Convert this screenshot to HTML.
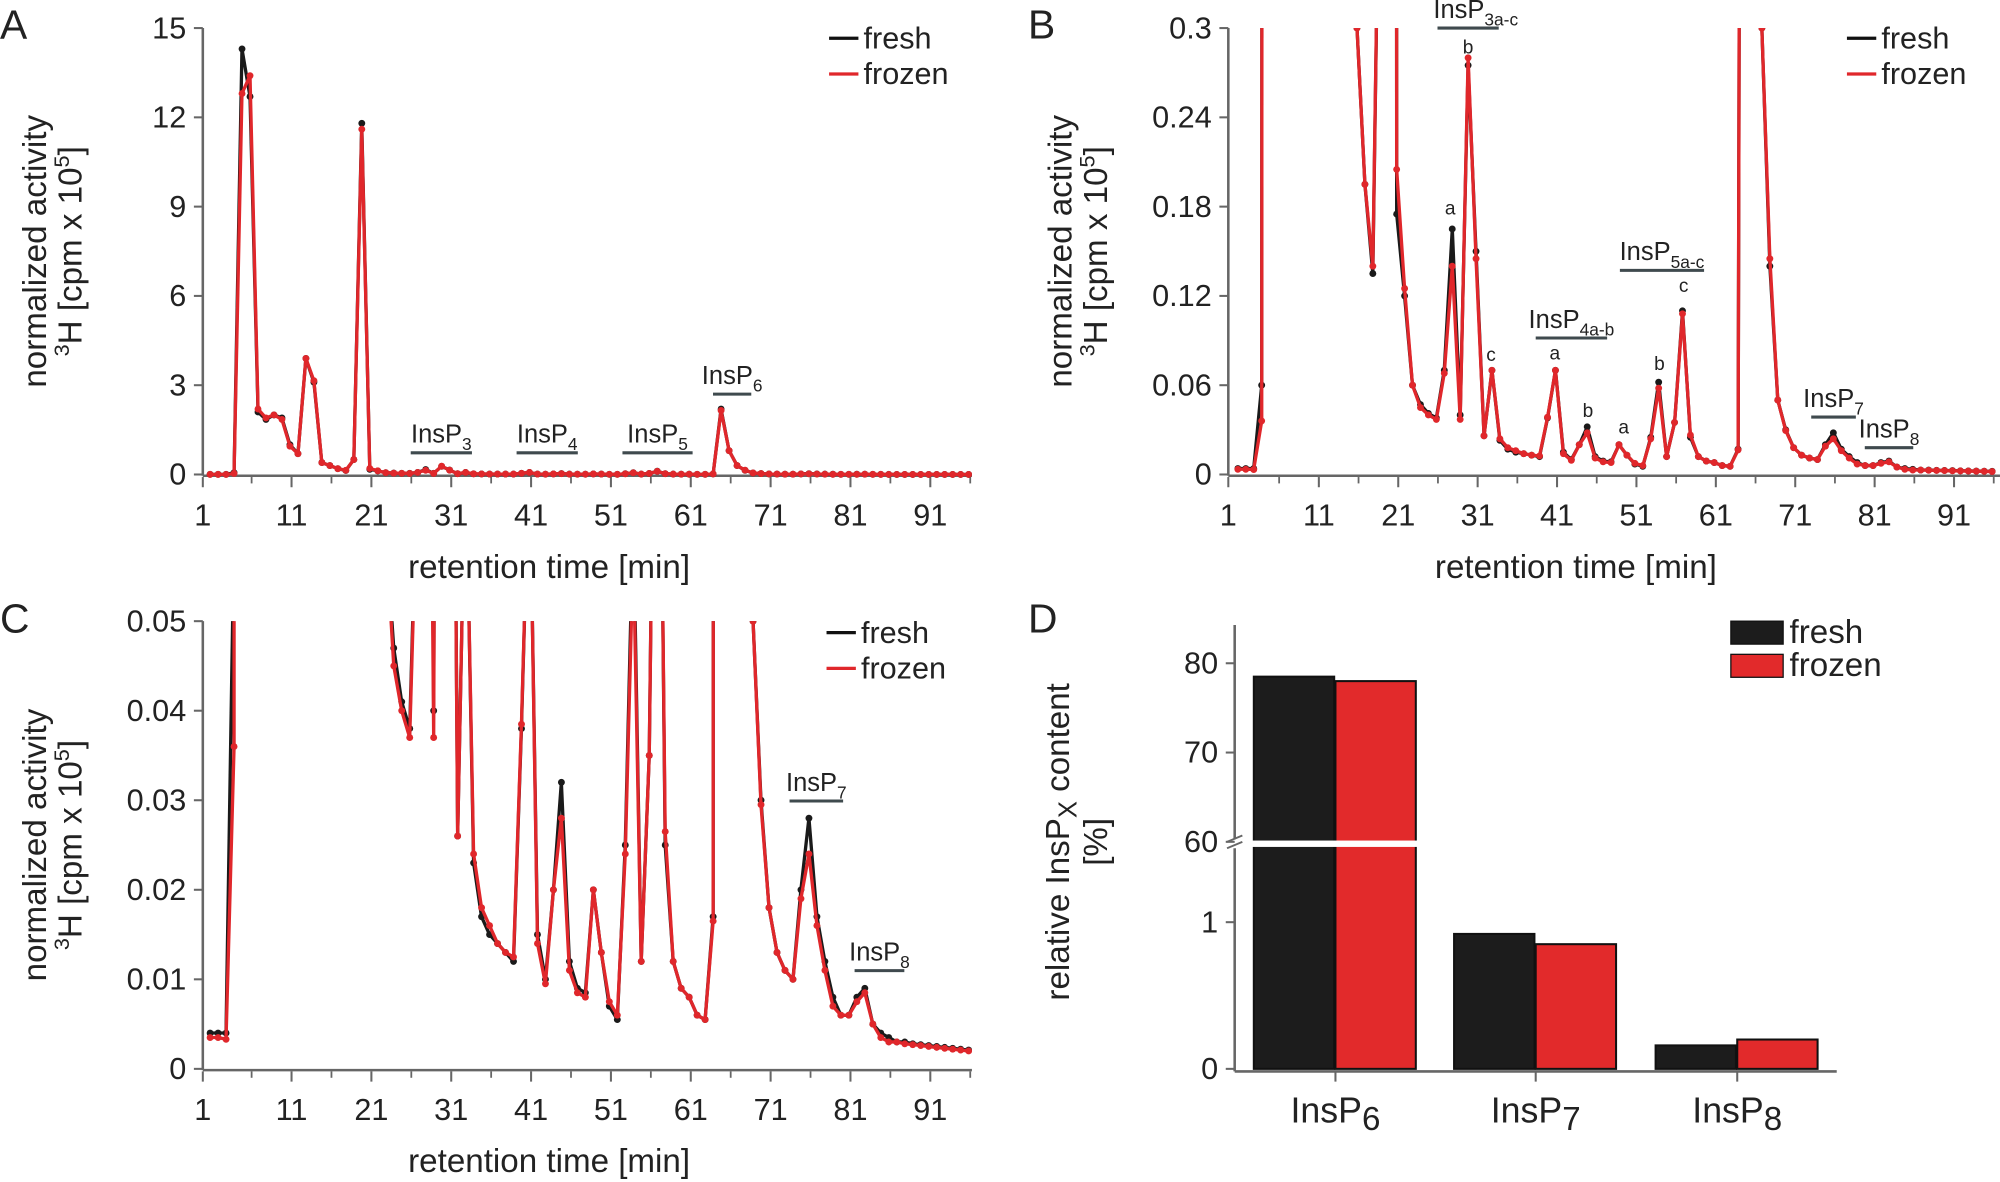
<!DOCTYPE html>
<html><head><meta charset="utf-8"><style>
html,body{margin:0;padding:0;background:#fff;}
svg{display:block;font-family:"Liberation Sans",Arial,sans-serif;}
</style></head><body>
<svg id="fig" width="2000" height="1182" viewBox="0 0 1568 926.7" xmlns="http://www.w3.org/2000/svg">
<defs>
<clipPath id="clipA"><rect x="159" y="14" width="603" height="362"/></clipPath>
<clipPath id="clipB"><rect x="963" y="22" width="605" height="354"/></clipPath>
<clipPath id="clipC"><rect x="159" y="487" width="603" height="355"/></clipPath>
</defs>
<g id="root"></g>
</svg>
<script>
const times = [0.8,1.8,2.8,3.8,4.8,5.8,6.8,7.8,8.8,9.8,10.8,11.8,12.8,13.8,14.8,15.8,16.8,17.8,18.8,19.8,20.8,21.8,22.8,23.8,24.8,25.8,26.8,27.8,28.8,29.8,30.8,31.8,32.8,33.8,34.8,35.8,36.8,37.8,38.8,39.8,40.8,41.8,42.8,43.8,44.8,45.8,46.8,47.8,48.8,49.8,50.8,51.8,52.8,53.8,54.8,55.8,56.8,57.8,58.8,59.8,60.8,61.8,62.8,63.8,64.8,65.8,66.8,67.8,68.8,69.8,70.8,71.8,72.8,73.8,74.8,75.8,76.8,77.8,78.8,79.8,80.8,81.8,82.8,83.8,84.8,85.8,86.8,87.8,88.8,89.8,90.8,91.8,92.8,93.8,94.8,95.8];
const fresh = [0.004,0.004,0.004,0.06,14.3,12.7,2.1,1.85,2.0,1.9,1.0,0.7,3.9,3.1,0.4,0.3,0.195,0.135,0.5,11.8,0.175,0.12,0.06,0.047,0.041,0.038,0.07,0.165,0.04,0.275,0.15,0.026,0.07,0.023,0.017,0.015,0.014,0.013,0.012,0.038,0.07,0.015,0.01,0.02,0.032,0.012,0.009,0.0085,0.02,0.013,0.007,0.0055,0.025,0.062,0.012,0.035,0.11,0.025,0.012,0.009,0.008,0.006,0.0055,0.017,2.2,0.8,0.3,0.14,0.05,0.03,0.018,0.013,0.011,0.01,0.02,0.028,0.017,0.012,0.008,0.006,0.006,0.008,0.009,0.005,0.004,0.0035,0.003,0.003,0.0028,0.0027,0.0026,0.0025,0.0024,0.0023,0.0022,0.0021];
const frozen = [0.0035,0.0035,0.0033,0.036,12.8,13.4,2.2,1.9,2.0,1.85,0.95,0.7,3.9,3.15,0.4,0.3,0.195,0.14,0.5,11.6,0.205,0.125,0.06,0.045,0.04,0.037,0.068,0.14,0.037,0.28,0.145,0.026,0.07,0.024,0.018,0.016,0.014,0.013,0.0125,0.0385,0.07,0.014,0.0095,0.02,0.028,0.011,0.0085,0.008,0.02,0.013,0.0075,0.006,0.024,0.058,0.012,0.035,0.108,0.0265,0.012,0.009,0.008,0.006,0.0055,0.0165,2.15,0.8,0.3,0.145,0.05,0.0295,0.018,0.013,0.011,0.01,0.019,0.024,0.016,0.011,0.007,0.006,0.006,0.0075,0.0085,0.005,0.0035,0.003,0.003,0.0028,0.0027,0.0026,0.0025,0.0024,0.0023,0.0022,0.0021,0.002];
const xTickLabels = ['1','11','21','31','41','51','61','71','81','91'];
const yTicksA = [0,3,6,9,12,15];
const yTicksB = [0,0.06,0.12,0.18,0.24,0.3];
const yTicksBLabels = ['0','0.06','0.12','0.18','0.24','0.3'];
const yTicksC = [0,0.01,0.02,0.03,0.04,0.05];
const barCategories = ['InsP6','InsP7','InsP8'];
const barFresh = [78.5,0.92,0.16];
const barFrozen = [78.0,0.85,0.2];

const NS='http://www.w3.org/2000/svg';
const root=document.getElementById('root');
function mk(tag,attrs,parent){const e=document.createElementNS(NS,tag);for(const k in attrs)e.setAttribute(k,attrs[k]);(parent||root).appendChild(e);return e;}
function txt(x,y,s,size,anchor,parent,extra){const e=mk('text',Object.assign({x:x,y:y,'font-size':size,'text-anchor':anchor||'start',fill:'#222'},extra||{}),parent);e.textContent=s;return e;}
function subLabel(x,y,base,sub,size,parent,name){const e=mk('text',{x:x,y:y,'font-size':size,'text-anchor':'middle',fill:'#222'},parent);
  
  
  const t1=document.createElementNS(NS,'tspan');t1.textContent=base;e.appendChild(t1);
  const t2=document.createElementNS(NS,'tspan');t2.setAttribute('dy',size*0.3);t2.setAttribute('font-size',size*0.68);t2.textContent=sub;e.appendChild(t2);return e;}

function panel(cfg){
  const g=mk('g',{});
  
  
  const sx=t=>cfg.xOrigin+t*cfg.pxPerMin;
  const sy=v=>cfg.yBase-v/cfg.yMax*(cfg.yBase-cfg.yTop);
  const xa=mk('line',{x1:cfg.x0,y1:cfg.yBase+1,x2:cfg.xEnd,y2:cfg.yBase+1,stroke:'#666','stroke-width':2},g);
  
  
  const ya=mk('line',{x1:cfg.x0,y1:cfg.yBase+1,x2:cfg.x0,y2:cfg.yTop,stroke:'#666','stroke-width':2},g);
  
  
  xTickLabels.forEach(l=>{const t=+l;const x=t===1?cfg.x0:sx(t);
    mk('line',{x1:x,y1:cfg.yBase+2,x2:x,y2:cfg.yBase+10,stroke:'#666','stroke-width':1.6},g);
    const e=txt(x,cfg.yBase+40,l,24,'middle',g);
    
    
  });
  for(let t=6;t<=96;t+=10){const x=sx(t);if(x<cfg.xEnd)mk('line',{x1:x,y1:cfg.yBase+2,x2:x,y2:cfg.yBase+7,stroke:'#666','stroke-width':1.4},g);}
  cfg.yTicks.forEach((v,i)=>{const y=sy(v);
    mk('line',{x1:cfg.x0-7,y1:y,x2:cfg.x0,y2:y,stroke:'#666','stroke-width':1.6},g);
    const e=txt(cfg.x0-13,y+8,cfg.yLabels[i],24,'end',g);
    
    
  });
  const xt=txt(cfg.x0+(cfg.xEnd-cfg.x0)/2-30,cfg.yBase+81,'retention time [min]',26,'middle',g);
  
  
  const yc=(cfg.yBase+cfg.yTop)/2;
  const yt1=txt(cfg.x0-123,yc,'normalized activity',26,'middle',g,{transform:`rotate(-90 ${cfg.x0-123} ${yc})`});
  
  
  const yt2=mk('text',{x:cfg.x0-95,y:yc,'font-size':26,'text-anchor':'middle',fill:'#222',transform:`rotate(-90 ${cfg.x0-95} ${yc})`},g);
  
  
  yt2.innerHTML='<tspan dy="-10" font-size="17">3</tspan><tspan dy="10">H [cpm x 10</tspan><tspan dy="-10" font-size="17">5</tspan><tspan dy="10">]</tspan>';
  const L=txt(cfg.letterX,cfg.letterY,cfg.letter,32,'start',g);
  
  
  const sg=mk('g',{'clip-path':`url(#${cfg.clip})`},g);
  [[fresh,'#1a1a1a','fresh'],[frozen,'#e0272b','frozen']].forEach(([arr,col,nm])=>{
    const pts=arr.map((v,i)=>sx(times[i]).toFixed(1)+','+sy(v).toFixed(1)).join(' ');
    const pl=mk('polyline',{points:pts,fill:'none',stroke:col,'stroke-width':2.6,'stroke-linejoin':'round'},sg);
    
    
    arr.forEach((v,i)=>{const c=mk('circle',{cx:sx(times[i]),cy:sy(v),r:2.7,fill:col},sg);
      
      });
  });
  [['fresh','#111',0],['frozen','#e0272b',28]].forEach(([nm,col,dy])=>{
    const lg=mk('g',{},g);
    
    
    mk('line',{x1:cfg.legX,y1:cfg.legY+dy,x2:cfg.legX+23,y2:cfg.legY+dy,stroke:col,'stroke-width':2.6},lg);
    txt(cfg.legX+27,cfg.legY+dy+8,nm,24,'start',lg);
  });
  (cfg.ann||[]).forEach(a=>{
    const ln=mk('line',{x1:a[0],y1:a[2],x2:a[1],y2:a[2],stroke:'#3f4a4e','stroke-width':2.4},g);
    
    
    subLabel((a[0]+a[1])/2+(a[5]||0),a[2]-8,'InsP',a[3],20,g,'annotation-'+a[4]);
  });
  (cfg.letters||[]).forEach(l=>{const e=txt(l[0],l[1],l[2],15,'middle',g);
    
    });
}

panel({name:'panel-a',letter:'A',letterX:0,letterY:30,x0:159,xEnd:762,xOrigin:159.7,pxPerMin:6.26,yBase:372,yTop:22,yMax:15,
  yTicks:yTicksA,yLabels:yTicksA.map(String),clip:'clipA',legX:650,legY:30,
  ann:[[322,370,355,'3','insp3'],[405,453,355,'4','insp4'],[488,543,355,'5','insp5'],[559,589,309,'6','insp6']]});
panel({name:'panel-b',letter:'B',letterX:806,letterY:30,x0:963,xEnd:1568,xOrigin:965.5,pxPerMin:6.225,yBase:372,yTop:22,yMax:0.3,
  yTicks:yTicksB,yLabels:yTicksBLabels,clip:'clipB',legX:1448,legY:30,
  ann:[[1127,1175,22,'3a-c','insp3a-c',6],[1204,1260,265,'4a-b','insp4a-b',0],[1270,1336,212,'5a-c','insp5a-c',0],[1420,1455,327,'7','insp7'],[1462,1500,351,'8','insp8']],
  letters:[[1137,168,'a'],[1151,42,'b'],[1169,283,'c'],[1219,282,'a'],[1245,327,'b'],[1273,340,'a'],[1301,290,'b'],[1320,229,'c']]});
panel({name:'panel-c',letter:'C',letterX:0,letterY:496,x0:159,xEnd:762,xOrigin:159.7,pxPerMin:6.26,yBase:838,yTop:487,yMax:0.05,
  yTicks:yTicksC,yLabels:yTicksC.map(v=>v===0?'0':v.toFixed(2)),clip:'clipC',legX:648,legY:496,
  ann:[[619,661,628,'7','insp7'],[670,709,761,'8','insp8']]});

(function(){
  const g=mk('g',{});
  
  
  const yv=v=>v>=50?660-(v-60)*7:838-v*115;
  const L=txt(806,496,'D',32,'start',g);
  
  
  const groupX=[983,1140,1298];
  barCategories.forEach((c,i)=>{
    [[barFresh[i],'#1c1c1c',0,'fresh'],[barFrozen[i],'#e22a2b',64,'frozen']].forEach(([v,col,off,nm])=>{
      const y=yv(v);
      const r=mk('rect',{x:groupX[i]+off,y:y,width:63,height:838-y,fill:col,stroke:'#111','stroke-width':1.6},g);
      
      
    });
    const t=mk('text',{x:groupX[i]+64,y:880,'font-size':28,'text-anchor':'middle',fill:'#222'},g);
    
    
    t.innerHTML='InsP<tspan dy="6" font-size="26">'+c.slice(4)+'</tspan>';
  });
  const br=mk('rect',{x:960,y:659,width:170,height:5,fill:'#fff'},g);
  
  
  const xa=mk('line',{x1:968,y1:840,x2:1440,y2:840,stroke:'#666','stroke-width':2},g);
  
  
  [[490,658],[665,840]].forEach(s=>{const l=mk('line',{x1:968,y1:s[0],x2:968,y2:s[1],stroke:'#666','stroke-width':2},g);
    
    });
  mk('line',{x1:962,y1:660,x2:974,y2:655,stroke:'#666','stroke-width':1.5},g);
  mk('line',{x1:962,y1:665,x2:974,y2:660,stroke:'#666','stroke-width':1.5},g);
  [80,70,60,1,0].forEach(v=>{const y=yv(v);
    mk('line',{x1:961,y1:y,x2:968,y2:y,stroke:'#666','stroke-width':1.6},g);
    const e=txt(955,y+8,String(v),24,'end',g);
    
    });
  [1047,1204,1362].forEach(x=>mk('line',{x1:x,y1:840,x2:x,y2:848,stroke:'#666','stroke-width':1.6},g));
  const t1=mk('text',{x:838,y:660,'font-size':26,'text-anchor':'middle',fill:'#222',transform:'rotate(-90 838 660)'},g);
  
  
  t1.innerHTML='relative InsP<tspan dy="6" font-size="20">X</tspan><tspan dy="-6"> content</tspan>';
  const t2=txt(868,660,'[%]',26,'middle',g,{transform:'rotate(-90 868 660)'});
  
  
  [['fresh','#1c1c1c',487],['frozen','#e22a2b',513]].forEach(([nm,col,y])=>{
    const lg=mk('g',{},g);
    
    
    mk('rect',{x:1357,y:y,width:41,height:18,fill:col,stroke:'#111','stroke-width':1},lg);
    txt(1403,y+17,nm,26,'start',lg);
  });
})();
</script>
</body></html>
